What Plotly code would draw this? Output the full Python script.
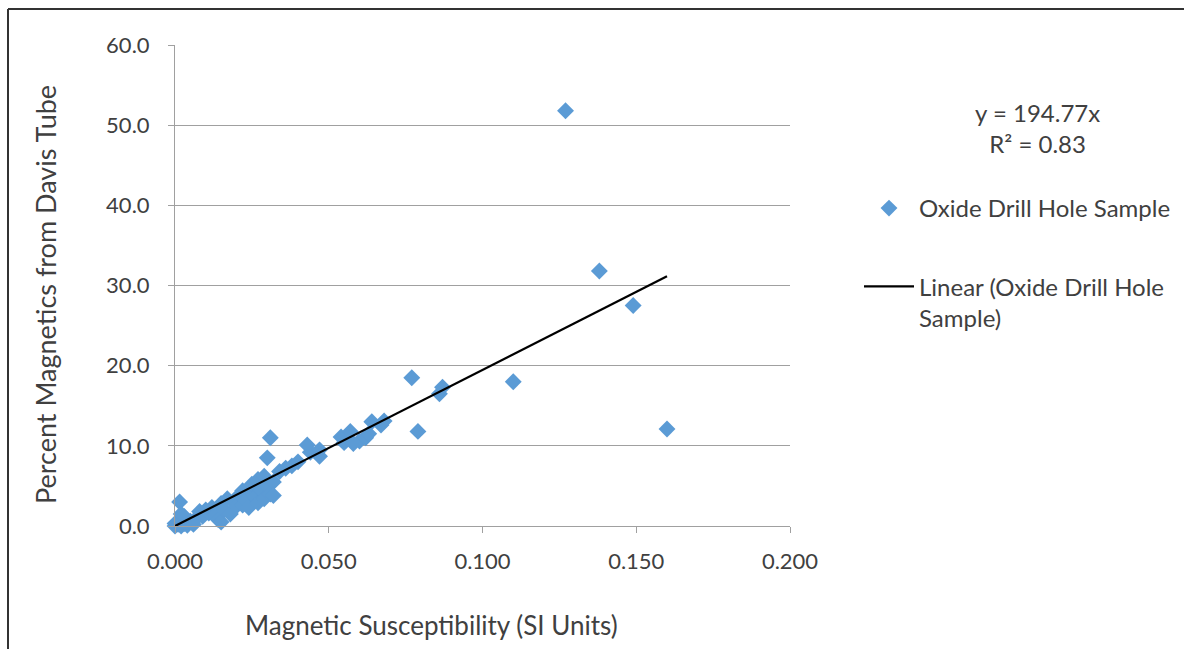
import plotly.graph_objects as go

# Magnetic susceptibility (SI units) of oxide drill hole samples
susceptibility = [
    0.000, 0.000, 0.001, 0.001, 0.002, 0.002, 0.0015, 0.002, 0.003, 0.003,
    0.004, 0.005, 0.006, 0.007, 0.008, 0.009, 0.010, 0.011, 0.012, 0.013,
    0.014, 0.015, 0.015, 0.016, 0.017, 0.018, 0.019, 0.020, 0.021, 0.022,
    0.022, 0.023, 0.024, 0.025, 0.025, 0.026, 0.027, 0.027, 0.028, 0.029,
    0.029, 0.030, 0.030, 0.031, 0.031, 0.032, 0.032, 0.034, 0.036, 0.038,
    0.040, 0.043, 0.044, 0.047, 0.047, 0.054, 0.055, 0.057, 0.058, 0.060,
    0.062, 0.063, 0.064, 0.067, 0.068, 0.077, 0.079, 0.086, 0.087, 0.110,
    0.127, 0.138, 0.149, 0.160,
]

# Percent magnetics recovered by Davis tube
davis_tube_pct = [
    0.0, 0.3, 0.2, 0.5, 0.0, 0.8, 3.0, 1.5, 0.3, 1.2,
    0.1, 0.6, 0.2, 1.0, 1.8, 1.2, 2.0, 1.6, 2.3, 1.4,
    0.8, 0.5, 2.8, 2.0, 3.4, 1.5, 3.0, 2.5, 3.9, 2.6,
    4.4, 3.2, 2.3, 4.1, 5.2, 3.6, 2.9, 5.8, 4.5, 6.2,
    3.4, 5.0, 8.5, 11.0, 4.0, 5.5, 3.8, 6.8, 7.2, 7.5,
    8.0, 10.1, 9.2, 9.5, 8.7, 11.1, 10.4, 11.8, 10.3, 10.6,
    11.0, 11.5, 13.0, 12.6, 13.1, 18.5, 11.8, 16.5, 17.3, 18.0,
    51.8, 31.8, 27.5, 12.1,
]

# Linear trendline through the origin
slope = 194.77
r_squared = 0.83
fit_x = [min(susceptibility), max(susceptibility)]
fit_y = [slope * v for v in fit_x]

y_ticks = [0, 10, 20, 30, 40, 50, 60]
x_ticks = [0.0, 0.05, 0.10, 0.15, 0.20]

FONT = "Lato"
TEXT = "#404040"
GRID = "#A0A0A0"

fig = go.Figure()
fig.add_trace(go.Scatter(
    x=susceptibility, y=davis_tube_pct, mode="markers",
    name="Oxide Drill Hole Sample", legendgroup="a",
    marker=dict(symbol="diamond", size=13, color="#5B9BD5", line=dict(width=0)),
    cliponaxis=False,
))
fig.add_trace(go.Scatter(
    x=fit_x, y=fit_y, mode="lines",
    name="Linear (Oxide Drill Hole<br>Sample)", legendgroup="b",
    line=dict(color="black", width=2.2),
))

L, T, W, H = 175, 45, 615, 481
FW, FH = 1184, 649

def px_x(p):
    return (p - L) / W

def px_y(p):
    return (T + H - p) / H

fig.update_layout(
    width=FW, height=FH,
    margin=dict(l=L, r=FW - L - W, t=T, b=FH - T - H, autoexpand=False),
    paper_bgcolor="white", plot_bgcolor="white",
    font=dict(family=FONT, size=22, color=TEXT),
    showlegend=True,
    legend=dict(
        x=px_x(859), y=px_y(186), xanchor="left", yanchor="top",
        traceorder="grouped", tracegroupgap=44, valign="top",
        font=dict(family=FONT, size=24, color=TEXT),
        itemwidth=50, bgcolor="rgba(0,0,0,0)",
    ),
    xaxis=dict(
        range=[0, 0.2], tickvals=x_ticks, tickformat=".3f",
        showgrid=False, zeroline=False,
        showline=True, linecolor=GRID, linewidth=1,
        ticks="outside", ticklen=6, tickcolor=GRID,
        tickfont=dict(family=FONT, size=22, color=TEXT),
        ticklabelstandoff=10,
    ),
    yaxis=dict(
        range=[0, 60], tickvals=y_ticks, tickformat=".1f",
        showgrid=True, gridcolor=GRID, gridwidth=1, zeroline=False,
        showline=True, linecolor=GRID, linewidth=1,
        ticks="outside", ticklen=6, tickcolor=GRID,
        tickfont=dict(family=FONT, size=22, color=TEXT),
        ticklabelstandoff=14,
    ),
    annotations=[
        dict(text="Magnetic Susceptibility (SI Units)", xref="paper", yref="paper",
             x=px_x(431), y=px_y(625), xanchor="center", yanchor="middle",
             showarrow=False, font=dict(family=FONT, size=26, color=TEXT)),
        dict(text="Percent Magnetics from Davis Tube", xref="paper", yref="paper",
             x=px_x(45), y=px_y(295), xanchor="center", yanchor="middle",
             showarrow=False, textangle=-90,
             font=dict(family=FONT, size=27, color=TEXT)),
        dict(text=f"y = {slope}x<br>R\u00b2 = {r_squared}", xref="paper", yref="paper",
             x=px_x(1037), y=px_y(128), xanchor="center", yanchor="middle",
             showarrow=False, align="center",
             font=dict(family=FONT, size=24, color=TEXT)),
    ],
    shapes=[
        dict(type="line", xref="paper", yref="paper",
             x0=px_x(8), x1=px_x(1190), y0=px_y(9), y1=px_y(9),
             line=dict(color="#333333", width=2)),
        dict(type="line", xref="paper", yref="paper",
             x0=px_x(8), x1=px_x(8), y0=px_y(9), y1=px_y(660),
             line=dict(color="#333333", width=2)),
    ],
)

fig.write_html("out.html")
